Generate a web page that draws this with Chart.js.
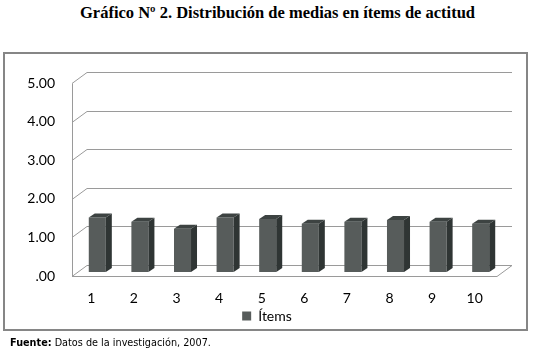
<!DOCTYPE html>
<html>
<head>
<meta charset="utf-8">
<script src="https://cdn.jsdelivr.net/npm/chart.js@4"></script>
<style>
html,body{margin:0;padding:0;background:#fff;width:534px;height:357px;overflow:hidden;}
#title{position:absolute;left:80px;top:3px;font:bold 16.5px "Liberation Serif",serif;line-height:20px;white-space:nowrap;color:#000;}
#frame{position:absolute;left:3px;top:52px;width:521px;height:275px;border:2px solid #868686;}
#wrap{position:absolute;left:0;top:0;width:534px;height:357px;}
#foot{position:absolute;left:10px;top:337px;font:9.7px "DejaVu Sans",sans-serif;line-height:12px;white-space:nowrap;color:#000;}
</style>
</head>
<body>
<div id="title">Gráfico Nº 2. Distribución de medias en ítems de actitud</div>
<div id="frame"></div>
<div id="wrap"><canvas id="c" width="534" height="357"></canvas></div>
<div id="foot"><b>Fuente:</b> Datos de la investigación, 2007.</div>
<script>
const categories = ['1','2','3','4','5','6','7','8','9','10'];
const itemValues = [1.41, 1.30, 1.12, 1.41, 1.37, 1.25, 1.30, 1.35, 1.30, 1.25];
const yTickLabels = ['.00','1.00','2.00','3.00','4.00','5.00'];
const seriesName = 'Ítems';

const WALL = {dx: 15, dy: -11};
const BAR_OFF = {dx: 6, dy: -4};
const BAR_DEPTH = {dx: 6, dy: -4};
const FRONT = '#575c5b', SIDE = '#2f3534', TOP = '#3d4342';

const threeD = {
  id: 'threeD',
  beforeDatasetsDraw(chart) {
    const ctx = chart.ctx, ys = chart.scales.y, a = chart.chartArea;
    const x0 = a.left + 2, x1 = a.right + 1;
    ctx.save();
    ctx.strokeStyle = '#9a9a9a';
    ctx.lineWidth = 1;
    ys.ticks.forEach(t => {
      const yp = Math.round(ys.getPixelForValue(t.value)) + 0.5;
      ctx.beginPath();
      ctx.moveTo(x0, yp);
      ctx.lineTo(x0 + WALL.dx, yp + WALL.dy);
      ctx.lineTo(x1 + WALL.dx, yp + WALL.dy);
      ctx.stroke();
    });
    const yb = Math.round(ys.getPixelForValue(0)) + 0.5;
    const yt = Math.round(ys.getPixelForValue(5)) + 0.5;
    ctx.beginPath();
    ctx.moveTo(x0, yb);
    ctx.lineTo(x1, yb);
    ctx.lineTo(x1 + WALL.dx, yb + WALL.dy);
    ctx.stroke();
    ctx.beginPath();
    ctx.moveTo(x0 + 0.5, yt);
    ctx.lineTo(x0 + 0.5, yb);
    ctx.stroke();
    ctx.restore();
    ctx.save();
    ctx.translate(BAR_OFF.dx, BAR_OFF.dy);
  },
  afterDatasetsDraw(chart) {
    const ctx = chart.ctx;
    ctx.restore();
    const meta = chart.getDatasetMeta(0);
    ctx.save();
    meta.data.forEach(el => {
      const p = el.getProps(['x','y','base','width'], true);
      const l = p.x - p.width / 2 + BAR_OFF.dx, r = p.x + p.width / 2 + BAR_OFF.dx;
      const t = p.y + BAR_OFF.dy, b = p.base + BAR_OFF.dy;
      ctx.fillStyle = SIDE;
      ctx.beginPath();
      ctx.moveTo(r, t); ctx.lineTo(r + BAR_DEPTH.dx, t + BAR_DEPTH.dy);
      ctx.lineTo(r + BAR_DEPTH.dx, b + BAR_DEPTH.dy); ctx.lineTo(r, b);
      ctx.closePath(); ctx.fill();
      ctx.fillStyle = TOP;
      ctx.beginPath();
      ctx.moveTo(l, t); ctx.lineTo(l + BAR_DEPTH.dx, t + BAR_DEPTH.dy);
      ctx.lineTo(r + BAR_DEPTH.dx, t + BAR_DEPTH.dy); ctx.lineTo(r, t);
      ctx.closePath(); ctx.fill();
    });
    ctx.restore();
  }
};

new Chart(document.getElementById('c'), {
  type: 'bar',
  data: {
    labels: categories,
    datasets: [{
      label: seriesName,
      data: itemValues,
      backgroundColor: FRONT,
      borderWidth: 0,
      barPercentage: 0.4,
      categoryPercentage: 1.0,
      clip: false,
      yAxisID: 'y'
    }]
  },
  options: {
    responsive: false,
    animation: false,
    devicePixelRatio: 1,
    layout: {padding: {left: 18, right: 18, top: 83, bottom: 24}},
    plugins: {
      tooltip: {enabled: false},
      legend: {
        position: 'bottom',
        labels: {
          boxWidth: 9, boxHeight: 9, padding: 4,
          color: '#000',
          font: {family: 'Lato', size: 14}
        }
      }
    },
    scales: {
      x: {
        grid: {display: false, drawTicks: false},
        border: {display: false},
        ticks: {padding: 14, maxRotation: 0, color: '#000', font: {family: 'Lato', size: 14}},
        afterFit(s) { s.height = 29; }
      },
      y: {
        min: 0, max: 5,
        grid: {display: false, drawTicks: false},
        border: {display: false},
        ticks: {
          stepSize: 1, padding: 15, color: '#000',
          font: {family: 'Lato', size: 14},
          callback: (v) => yTickLabels[Math.round(v)]
        },
        afterFit(s) { s.width = 52; }
      },
      yRight: {
        position: 'right',
        min: 0, max: 5,
        grid: {display: false, drawTicks: false},
        border: {display: false},
        ticks: {display: false},
        afterFit(s) { s.width = 20; }
      }
    }
  },
  plugins: [threeD]
});
</script>
</body>
</html>
